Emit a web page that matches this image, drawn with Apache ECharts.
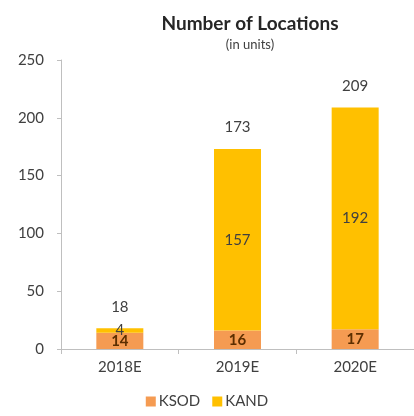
<!DOCTYPE html>
<html>
<head>
<meta charset="utf-8">
<script src="https://cdn.jsdelivr.net/npm/echarts@6/dist/echarts.min.js"></script>
<style>
  html, body { margin: 0; padding: 0; background: #fff; }
  #main { width: 414px; height: 416px; }
</style>
</head>
<body>
<div id="main"></div>
<script>
// data
var years = ['2018E', '2019E', '2020E'];
var ksod = [14, 16, 17];
var kand = [4, 157, 192];
var totals = [18, 173, 209];

var chart = echarts.init(document.getElementById('main'));
var font = 'Lato, "Open Sans", sans-serif';

var option = {
  backgroundColor: '#ffffff',
  textStyle: { fontFamily: font },
  title: {
    text: 'Number of Locations',
    subtext: '(in units)',
    left: 245,
    top: 9,
    textAlign: 'center',
    itemGap: 5,
    textStyle: { fontFamily: font, fontSize: 19, fontWeight: 'bold', color: '#262626' },
    subtextStyle: { fontFamily: font, fontSize: 13, color: '#404040' }
  },
  legend: {
    data: ['KSOD', 'KAND'],
    bottom: 2,
    left: 'center',
    itemWidth: 10,
    itemHeight: 10,
    itemGap: 12,
    icon: 'rect',
    textStyle: { fontFamily: font, fontSize: 15, color: '#404040', padding: [0, 0, 0, -2] }
  },
  grid: { left: 61, right: 0, top: 60, bottom: 67 },
  xAxis: {
    type: 'category',
    data: years,
    axisLine: { lineStyle: { color: '#bfbfbf' } },
    axisTick: { show: true, length: 5, lineStyle: { color: '#bfbfbf' } },
    axisLabel: { fontFamily: font, fontSize: 15, color: '#404040', margin: 11 }
  },
  yAxis: {
    type: 'value',
    min: 0,
    max: 250,
    interval: 50,
    axisLine: { show: true, lineStyle: { color: '#bfbfbf' } },
    axisTick: { show: true, length: 4, lineStyle: { color: '#bfbfbf' } },
    splitLine: { show: false },
    axisLabel: { fontFamily: font, fontSize: 15, color: '#404040', margin: 17 }
  },
  series: [{
    name: 'KSOD',
    type: 'bar',
    stack: 'loc',
    barWidth: 47,
    data: ksod,
    itemStyle: { color: '#F59B52' },
    label: { show: true, position: 'inside', fontFamily: font, fontSize: 15, fontWeight: 'bold', color: '#5c2e00' }
  }, {
    name: 'KAND',
    type: 'bar',
    stack: 'loc',
    data: kand,
    itemStyle: { color: '#FFC000' },
    label: { show: true, position: 'inside', fontFamily: font, fontSize: 15, color: '#404040' }
  }, {
    name: 'Total',
    type: 'bar',
    stack: 'loc',
    data: totals.map(function () { return 0; }),
    itemStyle: { color: 'transparent' },
    label: {
      show: true,
      position: 'top',
      distance: 14,
      fontFamily: font,
      fontSize: 15,
      color: '#404040',
      formatter: function (p) { return totals[p.dataIndex]; }
    }
  }]
};

chart.setOption(option);
</script>
</body>
</html>
